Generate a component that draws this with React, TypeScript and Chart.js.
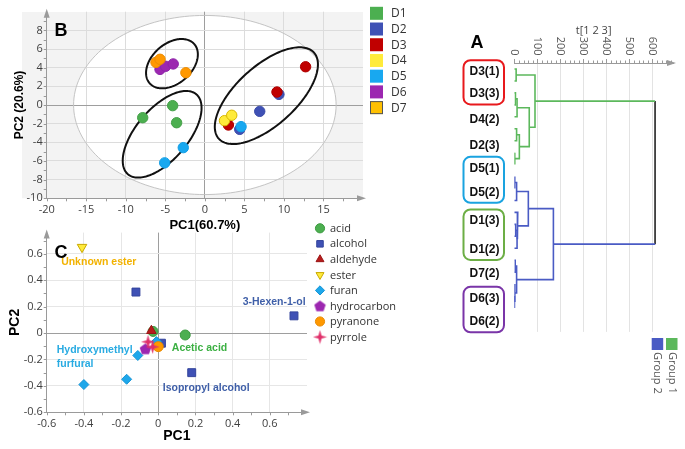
import { useEffect, useRef } from 'react';
import { Chart, registerables } from 'chart.js';
import { drawPoint } from 'chart.js/helpers';

Chart.register(...registerables);

// ---------------- Panel B : PCA scores ----------------
const sampleGroups = ['D1', 'D2', 'D3', 'D4', 'D5', 'D6', 'D7'];
const sampleColors = ['#4caf50', '#3f51b5', '#c00000', '#ffeb3b', '#18a8f0', '#9c27b0', '#ff9800'];
const sampleBorders = ['#45a049', '#3a4aa8', '#b00000', '#d9b800', '#109ee6', '#8e24aa', '#ec8c00'];
const swatchColors = ['#4caf50', '#3f51b5', '#c00000', '#ffeb3b', '#18a8f0', '#9c27b0', '#ffc000'];
const d1PC1 = [-4.07, -7.86, -3.57];
const d1PC2 = [-0.07, -1.36, -1.9];
const d2PC1 = [9.37, 6.94, 4.41];
const d2PC2 = [1.14, -0.68, -2.61];
const d3PC1 = [12.74, 9.12, 2.98];
const d3PC2 = [4.1, 1.39, -2.14];
const d4PC1 = [2.48, 3.4];
const d4PC2 = [-1.68, -1.1];
const d5PC1 = [-2.73, -5.08, 4.58];
const d5PC2 = [-4.57, -6.2, -2.32];
const d6PC1 = [-5.67, -4.96, -4.0];
const d6PC2 = [3.82, 4.15, 4.4];
const d7PC1 = [-6.18, -5.67, -2.4];
const d7PC2 = [4.57, 4.9, 3.46];
const samplePC1 = [d1PC1, d2PC1, d3PC1, d4PC1, d5PC1, d6PC1, d7PC1];
const samplePC2 = [d1PC2, d2PC2, d3PC2, d4PC2, d5PC2, d6PC2, d7PC2];
const scoreTicksX = [-20, -15, -10, -5, 0, 5, 10, 15];
const scoreTicksY = [-10, -8, -6, -4, -2, 0, 2, 4, 6, 8];
// Hotelling T2 ellipse (data units)
const hotellingRX = 16.6;
const hotellingRY = 9.6;
// cluster ellipses: centre and conjugate half-axes (data units)
const clusterCX = [-4.16, -5.4, 7.78];
const clusterCY = [4.43, -3.14, 1.0];
const clusterAX = [2.83, 4.33, 6.02];
const clusterAY = [2.09, 4.28, 4.61];
const clusterBX = [1.65, 2.47, 2.51];
const clusterBY = [-1.62, -1.8, -2.37];

// ---------------- Panel C : loadings ----------------
const compoundClasses = ['acid', 'alcohol', 'aldehyde', 'ester', 'furan', 'hydrocarbon', 'pyranone', 'pyrrole'];
const classColors = ['#4caf50', '#3f51b5', '#b71c1c', '#ffeb3b', '#1ea7ea', '#9c27b0', '#ff9800', '#e0306a'];
const classBorders = ['#3d9a41', '#33449c', '#9a1515', '#c9a800', '#1695d6', '#8a1fa0', '#e88a00', '#c8245a'];
const classStyles = ['circle', 'rect', 'triangle', 'triangle', 'rectRot', 'pentagon', 'circle', 'star4'];
const classRotation = [0, 0, 0, 180, 0, 0, 0, 0];
const acidPC1 = [-0.028, 0.145];
const acidPC2 = [0.012, -0.015];
const alcoholPC1 = [-0.12, 0.18, 0.017, 0.73];
const alcoholPC2 = [0.31, -0.3, -0.077, 0.13];
const aldehydePC1 = [-0.037];
const aldehydePC2 = [0.017];
const esterPC1 = [-0.41];
const esterPC2 = [0.65];
const furanPC1 = [-0.4, -0.17, -0.11, -0.01];
const furanPC2 = [-0.39, -0.35, -0.17, -0.065];
const hydrocarbonPC1 = [-0.069];
const hydrocarbonPC2 = [-0.12];
const pyranonePC1 = [0.0];
const pyranonePC2 = [-0.103];
const pyrrolePC1 = [-0.055, -0.03];
const pyrrolePC2 = [-0.067, -0.105];
const classPC1 = [acidPC1, alcoholPC1, aldehydePC1, esterPC1, furanPC1, hydrocarbonPC1, pyranonePC1, pyrrolePC1];
const classPC2 = [acidPC2, alcoholPC2, aldehydePC2, esterPC2, furanPC2, hydrocarbonPC2, pyranonePC2, pyrrolePC2];
const loadingTicksX = [-0.6, -0.4, -0.2, 0, 0.2, 0.4, 0.6];
const loadingTicksY = [-0.6, -0.4, -0.2, 0, 0.2, 0.4, 0.6];
const noteTexts = ['Unknown ester', 'Hydroxymethyl', 'furfural', 'Acetic acid', 'Isopropyl alcohol', '3-Hexen-1-ol'];
const noteX = [-0.32, -0.546, -0.546, 0.073, 0.024, 0.793];
const noteY = [0.534, -0.133, -0.238, -0.113, -0.414, 0.235];
const noteAlign = ['center', 'left', 'left', 'left', 'left', 'right'];
const noteColors = ['#f2b200', '#29abe2', '#29abe2', '#3cb043', '#3f5fa8', '#3f5fa8'];

// ---------------- Panel A : dendrogram ----------------
const leafCount = 21;
const mergeLeft = [0, 2, 22, 5, 7, 24, 23, 21, 9, 29, 13, 31, 12, 30, 16, 19, 18, 35, 34, 28];
const mergeRight = [1, 3, 4, 6, 8, 25, 26, 27, 10, 11, 14, 15, 32, 33, 17, 20, 36, 37, 38, 39];
const mergeHeight = [8, 5, 12, 10, 3, 22, 65, 90, 3, 10, 6, 12, 15, 61, 4, 1, 3, 10, 170, 612];
const mergeGroup = [0, 0, 0, 0, 0, 0, 0, 0, 1, 1, 1, 1, 1, 1, 1, 1, 1, 1, 1, 2];
const clusterGroups = ['Group 1', 'Group 2'];
const clusterColors = ['#5cb85c', '#4a5bc4', '#222222'];
const leafLabels = ['D3(1)', 'D3(3)', 'D4(2)', 'D2(3)', 'D5(1)', 'D5(2)', 'D1(3)', 'D1(2)', 'D7(2)', 'D6(3)', 'D6(2)'];
const leafLabelPos = [0.23, 2.09, 4.21, 6.42, 8.31, 10.32, 12.72, 15.1, 17.1, 19.19, 21.15];
const labelBoxFirst = [0, 4, 6, 9];
const labelBoxLast = [1, 5, 7, 10];
const labelBoxColors = ['#e8191c', '#1aa3e0', '#6cae45', '#7a35a8'];
const distanceTicks = [0, 100, 200, 300, 400, 500, 600];

const TICK_FONT = { family: 'Open Sans', size: 11 };

function ellipsePath(ctx: any, sx: any, sy: any, cx: number, cy: number, ax: number, ay: number, bx: number, by: number) {
  ctx.beginPath();
  for (let i = 0; i <= 160; i++) {
    const t = (i / 160) * Math.PI * 2;
    const px = sx.getPixelForValue(cx + ax * Math.cos(t) + bx * Math.sin(t));
    const py = sy.getPixelForValue(cy + ay * Math.cos(t) + by * Math.sin(t));
    if (i === 0) ctx.moveTo(px, py);
    else ctx.lineTo(px, py);
  }
  ctx.closePath();
}

function arrowRight(ctx: any, x: number, y: number) {
  ctx.beginPath();
  ctx.moveTo(x + 3, y);
  ctx.lineTo(x - 6, y - 3);
  ctx.lineTo(x - 6, y + 3);
  ctx.closePath();
  ctx.fill();
}
function arrowUp(ctx: any, x: number, y: number) {
  ctx.beginPath();
  ctx.moveTo(x, y - 3);
  ctx.lineTo(x - 3, y + 6);
  ctx.lineTo(x + 3, y + 6);
  ctx.closePath();
  ctx.fill();
}

function axisDecor(chart: any, minorX: number, minorY: number, xMax: number, yMax: number) {
  const { ctx, chartArea: ca, scales } = chart;
  const sx = scales.x;
  const sy = scales.y;
  ctx.save();
  ctx.strokeStyle = '#9a9a9a';
  ctx.fillStyle = '#9a9a9a';
  ctx.lineWidth = 1;
  ctx.beginPath();
  for (let v = sx.min; v <= xMax + 1e-9; v += minorX) {
    const px = Math.round(sx.getPixelForValue(v)) + 0.5;
    ctx.moveTo(px, ca.bottom);
    ctx.lineTo(px, ca.bottom + 3);
  }
  for (let v = sy.min; v <= yMax + 1e-9; v += minorY) {
    const py = Math.round(sy.getPixelForValue(v)) + 0.5;
    ctx.moveTo(ca.left - 3, py);
    ctx.lineTo(ca.left, py);
  }
  ctx.stroke();
  arrowRight(ctx, ca.right, ca.bottom);
  arrowUp(ctx, ca.left, ca.top);
  ctx.restore();
}

function panelLetter(ctx: any, letter: string, x: number, y: number) {
  ctx.save();
  ctx.fillStyle = '#000';
  ctx.font = 'bold 18px "Liberation Sans"';
  ctx.textAlign = 'center';
  ctx.textBaseline = 'middle';
  ctx.fillText(letter, x, y);
  ctx.restore();
}

const panelBDecor = {
  id: 'panelBDecor',
  beforeDraw(chart: any) {
    const { ctx, chartArea: ca, scales } = chart;
    ctx.save();
    ctx.fillStyle = '#f3f3f3';
    ctx.fillRect(22, 12, ca.right - 22, ca.bottom - 12);
    ellipsePath(ctx, scales.x, scales.y, 0, 0, hotellingRX, 0, 0, hotellingRY);
    ctx.fillStyle = '#ffffff';
    ctx.fill();
    ctx.restore();
  },
  beforeDatasetsDraw(chart: any) {
    const { ctx, scales } = chart;
    ctx.save();
    ellipsePath(ctx, scales.x, scales.y, 0, 0, hotellingRX, 0, 0, hotellingRY);
    ctx.strokeStyle = '#c4c4c4';
    ctx.lineWidth = 1;
    ctx.stroke();
    ctx.strokeStyle = '#111';
    ctx.lineWidth = 2;
    for (let i = 0; i < clusterCX.length; i++) {
      ellipsePath(ctx, scales.x, scales.y, clusterCX[i], clusterCY[i], clusterAX[i], clusterAY[i], clusterBX[i], clusterBY[i]);
      ctx.stroke();
    }
    ctx.restore();
  },
  afterDraw(chart: any) {
    const { ctx } = chart;
    axisDecor(chart, 2.5, 1, 17.5, 9);
    ctx.save();
    ctx.font = '12px "Open Sans"';
    ctx.textBaseline = 'middle';
    chart.data.datasets.forEach((ds: any, i: number) => {
      const cy = 13.3 + i * 15.72;
      ctx.fillStyle = swatchColors[i];
      ctx.fillRect(370, cy - 6.5, 13, 13);
      if (i === chart.data.datasets.length - 1) {
        ctx.strokeStyle = '#555';
        ctx.lineWidth = 1;
        ctx.strokeRect(370.5, cy - 6, 12, 12);
      }
      ctx.fillStyle = '#333';
      ctx.fillText(ds.label, 391, cy + 0.5);
    });
    ctx.restore();
    panelLetter(ctx, 'B', 61, 31);
  },
};

const panelCDecor = {
  id: 'panelCDecor',
  afterDraw(chart: any) {
    const { ctx, scales } = chart;
    axisDecor(chart, 0.1, 0.1, 0.75, 0.7);
    ctx.save();
    ctx.font = 'bold 10.5px "Liberation Sans"';
    ctx.textBaseline = 'middle';
    for (let i = 0; i < noteTexts.length; i++) {
      ctx.fillStyle = noteColors[i];
      ctx.textAlign = noteAlign[i];
      ctx.fillText(noteTexts[i], scales.x.getPixelForValue(noteX[i]), scales.y.getPixelForValue(noteY[i]));
    }
    ctx.textAlign = 'left';
    ctx.font = '11px "Open Sans"';
    chart.data.datasets.forEach((ds: any, i: number) => {
      const cy = 6.3 + i * 15.53;
      ctx.fillStyle = ds.backgroundColor;
      ctx.strokeStyle = ds.borderColor;
      drawPoint(ctx, { pointStyle: ds.pointStyle, rotation: ds.rotation, radius: 4.6, borderWidth: 1 }, 320, cy);
      ctx.fillStyle = '#333';
      ctx.fillText(ds.label, 330, cy + 0.5);
    });
    ctx.restore();
    panelLetter(ctx, 'C', 61, 31);
  },
};

const dendroDecor = {
  id: 'dendroDecor',
  afterDraw(chart: any) {
    const { ctx, chartArea: ca, scales } = chart;
    const sx = scales.x;
    const sy = scales.y;
    ctx.save();
    // minor ticks on distance axis
    ctx.strokeStyle = '#9a9a9a';
    ctx.fillStyle = '#9a9a9a';
    ctx.lineWidth = 1;
    ctx.beginPath();
    for (let v = 0; v <= 680; v += 20) {
      const px = Math.round(sx.getPixelForValue(v)) + 0.5;
      ctx.moveTo(px, ca.top - (v % 100 === 0 ? 4 : 2.5));
      ctx.lineTo(px, ca.top);
    }
    ctx.stroke();
    arrowRight(ctx, ca.right, ca.top);
    // rotated tick labels
    ctx.fillStyle = '#555';
    ctx.font = '11px "Open Sans"';
    ctx.textAlign = 'right';
    ctx.textBaseline = 'middle';
    for (const v of distanceTicks) {
      ctx.save();
      ctx.translate(sx.getPixelForValue(v), ca.top - 7.5);
      ctx.rotate(Math.PI / 2);
      ctx.fillText(String(v), 0, 0);
      ctx.restore();
    }
    // label boxes
    ctx.lineWidth = 2;
    for (let i = 0; i < labelBoxFirst.length; i++) {
      const top = sy.getPixelForValue(leafLabelPos[labelBoxFirst[i]]) - 11.5;
      const bottom = sy.getPixelForValue(leafLabelPos[labelBoxLast[i]]) + 10.5;
      ctx.strokeStyle = labelBoxColors[i];
      ctx.beginPath();
      ctx.roundRect(8.5, top, 40.5, bottom - top, 7);
      ctx.stroke();
    }
    // group legend (rotated)
    ctx.font = '11px "Open Sans"';
    ctx.textAlign = 'left';
    for (let g = 0; g < clusterGroups.length; g++) {
      const x = 211 - g * 14.3;
      ctx.fillStyle = clusterColors[g];
      ctx.fillRect(x, 338, 11.5, 12);
      ctx.fillStyle = '#555';
      ctx.save();
      ctx.translate(x + 5.8, 352);
      ctx.rotate(Math.PI / 2);
      ctx.fillText(clusterGroups[g], 0, 0);
      ctx.restore();
    }
    ctx.restore();
    panelLetter(ctx, 'A', 22, 43);
  },
};

function makePentagon(color: string) {
  const c = document.createElement('canvas');
  c.width = 13;
  c.height = 13;
  const g = c.getContext('2d')!;
  g.beginPath();
  for (let i = 0; i < 5; i++) {
    const a = -Math.PI / 2 + (i * 2 * Math.PI) / 5;
    const px = 6.5 + 6 * Math.cos(a);
    const py = 7 + 6 * Math.sin(a);
    if (i === 0) g.moveTo(px, py);
    else g.lineTo(px, py);
  }
  g.closePath();
  g.fillStyle = color;
  g.fill();
  return c;
}
function makeStar4(color: string) {
  const c = document.createElement('canvas');
  c.width = 15;
  c.height = 15;
  const g = c.getContext('2d')!;
  g.beginPath();
  for (let i = 0; i < 8; i++) {
    const a = -Math.PI / 2 + (i * Math.PI) / 4;
    const r = i % 2 === 0 ? 7 : 2.2;
    const px = 7.5 + r * Math.cos(a);
    const py = 7.5 + r * Math.sin(a);
    if (i === 0) g.moveTo(px, py);
    else g.lineTo(px, py);
  }
  g.closePath();
  g.fillStyle = color;
  g.fill();
  return c;
}

function nodeY(id: number): number {
  if (id < leafCount) return id;
  const k = id - leafCount;
  return (nodeY(mergeLeft[k]) + nodeY(mergeRight[k])) / 2;
}
function nodeH(id: number): number {
  return id < leafCount ? 0 : mergeHeight[id - leafCount];
}

function buildDendroDatasets() {
  const sets: any[] = [];
  const line = (pts: { x: number; y: number }[], color: string) => ({
    data: pts,
    showLine: true,
    borderColor: color,
    backgroundColor: color,
    borderWidth: 1.6,
    pointRadius: 0,
    tension: 0,
  });
  for (let k = 0; k < mergeHeight.length; k++) {
    const L = mergeLeft[k];
    const R = mergeRight[k];
    const h = mergeHeight[k];
    const yL = nodeY(L);
    const yR = nodeY(R);
    const g = mergeGroup[k];
    if (g < 2) {
      sets.push(line([{ x: nodeH(L), y: yL }, { x: h, y: yL }, { x: h, y: yR }, { x: nodeH(R), y: yR }], clusterColors[g]));
    } else {
      sets.push(line([{ x: nodeH(L), y: yL }, { x: h, y: yL }], clusterColors[mergeGroup[L - leafCount]]));
      sets.push(line([{ x: nodeH(R), y: yR }, { x: h, y: yR }], clusterColors[mergeGroup[R - leafCount]]));
      sets.push(line([{ x: h, y: yL }, { x: h, y: yR }], clusterColors[g]));
    }
  }
  return sets;
}

const fmt1 = (v: any) => String(Math.round(Number(v) * 10) / 10);

export default function App() {
  const refB = useRef<HTMLCanvasElement>(null);
  const refC = useRef<HTMLCanvasElement>(null);
  const refA = useRef<HTMLCanvasElement>(null);

  useEffect(() => {
    document.body.style.margin = '0';
    const chartB = new Chart(refB.current!, {
      type: 'scatter',
      data: {
        datasets: sampleGroups.map((g, i) => ({
          label: g,
          data: samplePC1[i].map((x, j) => ({ x, y: samplePC2[i][j] })),
          backgroundColor: sampleColors[i],
          borderColor: sampleBorders[i],
          borderWidth: 1,
          pointRadius: 5.2,
          order: sampleGroups.length - i,
        })),
      },
      options: {
        responsive: false,
        animation: false,
        events: [],
        layout: { padding: { left: 0, right: 92, top: 11.7, bottom: 0 } },
        plugins: { legend: { display: false }, tooltip: { enabled: false } },
        scales: {
          x: {
            type: 'linear',
            min: -20,
            max: 20,
            afterBuildTicks: (s: any) => { s.ticks = scoreTicksX.map((v) => ({ value: v })); },
            afterFit: (s: any) => { s.height = 36.7; },
            grid: { color: (c: any) => (c.tick && c.tick.value === 0 ? '#9e9e9e' : '#dcdcdc'), drawTicks: false },
            border: { color: '#9a9a9a' },
            ticks: { padding: 5, color: '#404040', font: TICK_FONT, callback: (v: any) => String(v) },
            title: { display: true, text: 'PC1(60.7%)', color: '#000', font: { family: 'Liberation Sans', size: 13, weight: 'bold' }, padding: { top: 0, bottom: 1.7 } },
          },
          y: {
            type: 'linear',
            min: -10,
            max: 10,
            afterBuildTicks: (s: any) => { s.ticks = scoreTicksY.map((v) => ({ value: v })); },
            afterFit: (s: any) => { s.width = 46.7; },
            grid: { color: (c: any) => (c.tick && c.tick.value === 0 ? '#9e9e9e' : '#dcdcdc'), drawTicks: false },
            border: { color: '#9a9a9a' },
            ticks: { padding: 4, color: '#404040', font: TICK_FONT, callback: (v: any) => String(v) },
            title: { display: true, text: 'PC2 (20.6%)', color: '#000', font: { family: 'Liberation Sans', size: 12, weight: 'bold' }, padding: { top: 12.8, bottom: 0 } },
          },
        },
      } as any,
      plugins: [panelBDecor],
    });

    const customStyles: any = { pentagon: makePentagon(classColors[5]), star4: makeStar4(classColors[7]) };
    const chartC = new Chart(refC.current!, {
      type: 'scatter',
      data: {
        datasets: compoundClasses.map((name, i) => ({
          label: name,
          data: classPC1[i].map((x, j) => ({ x, y: classPC2[i][j] })),
          backgroundColor: classColors[i],
          borderColor: classBorders[i],
          borderWidth: 1,
          pointStyle: customStyles[classStyles[i]] || classStyles[i],
          rotation: classRotation[i],
          pointRadius: classStyles[i] === 'rect' ? 5.6 : classStyles[i] === 'triangle' ? 5.5 : 5,
          order: compoundClasses.length - i,
        })),
      },
      options: {
        responsive: false,
        animation: false,
        events: [],
        layout: { padding: { left: 0, right: 148, top: 9.7, bottom: 0 } },
        plugins: { legend: { display: false }, tooltip: { enabled: false } },
        scales: {
          x: {
            type: 'linear',
            min: -0.6,
            max: 0.8,
            afterBuildTicks: (s: any) => { s.ticks = loadingTicksX.map((v) => ({ value: v })); },
            afterFit: (s: any) => { s.height = 36.7; },
            grid: { color: (c: any) => (c.tick && c.tick.value === 0 ? '#9e9e9e' : '#e6e6e6'), drawTicks: false },
            border: { color: '#9a9a9a' },
            ticks: { padding: 5, color: '#404040', font: TICK_FONT, callback: fmt1 },
            title: { display: true, text: 'PC1', color: '#000', font: { family: 'Liberation Sans', size: 14, weight: 'bold' }, padding: { top: 0, bottom: 4.6 } },
          },
          y: {
            type: 'linear',
            min: -0.6,
            max: 0.76,
            afterBuildTicks: (s: any) => { s.ticks = loadingTicksY.map((v) => ({ value: v })); },
            afterFit: (s: any) => { s.width = 46.7; },
            grid: { color: (c: any) => (c.tick && c.tick.value === 0 ? '#9e9e9e' : '#e6e6e6'), drawTicks: false },
            border: { color: '#9a9a9a' },
            ticks: { padding: 4, color: '#404040', font: TICK_FONT, callback: fmt1 },
            title: { display: true, text: 'PC2', color: '#000', font: { family: 'Liberation Sans', size: 14, weight: 'bold' }, padding: { top: 6.6, bottom: 0 } },
          },
        },
      } as any,
      plugins: [panelCDecor],
    });

    const chartA = new Chart(refA.current!, {
      type: 'scatter',
      data: { datasets: buildDendroDatasets() },
      options: {
        responsive: false,
        animation: false,
        events: [],
        layout: { padding: { left: 14.5, right: 12, top: 0, bottom: 68.1 } },
        plugins: { legend: { display: false }, tooltip: { enabled: false } },
        scales: {
          x: {
            type: 'linear',
            position: 'top',
            min: 0,
            max: 690,
            afterBuildTicks: (s: any) => { s.ticks = distanceTicks.map((v) => ({ value: v })); },
            afterFit: (s: any) => { s.height = 63; },
            ticks: { display: false },
            grid: { color: (c: any) => (c.tick && c.tick.value === 0 ? 'rgba(0,0,0,0)' : '#e3e3e3'), drawTicks: false },
            border: { color: '#9a9a9a' },
            title: { display: true, text: 't[1 2 3]', color: '#444', font: { family: 'Open Sans', size: 11 }, padding: { top: 24.4, bottom: 0 } },
          },
          y: {
            type: 'linear',
            reverse: true,
            min: -0.5,
            max: 22,
            afterBuildTicks: (s: any) => { s.ticks = leafLabelPos.map((v) => ({ value: v })); },
            afterFit: (s: any) => { s.width = 44.8; },
            ticks: {
              autoSkip: false,
              crossAlign: 'far',
              padding: 0,
              color: '#111',
              font: { family: 'Liberation Sans', size: 12, weight: 'bold' },
              callback: (_v: any, i: number) => leafLabels[i],
            },
            grid: { display: false },
            border: { display: false },
          },
        },
      } as any,
      plugins: [dendroDecor],
    });

    return () => {
      chartB.destroy();
      chartC.destroy();
      chartA.destroy();
    };
  }, []);

  return (
    <div style={{ position: 'absolute', left: 0, top: 0, width: 685, height: 449, background: '#fff', overflow: 'hidden' }}>
      <canvas ref={refB} width={455} height={235} style={{ position: 'absolute', left: 0, top: 0, width: 455, height: 235 }} />
      <canvas ref={refC} width={455} height={227} style={{ position: 'absolute', left: 0, top: 222, width: 455, height: 227 }} />
      <canvas ref={refA} width={230} height={400} style={{ position: 'absolute', left: 455, top: 0, width: 230, height: 400 }} />
    </div>
  );
}
